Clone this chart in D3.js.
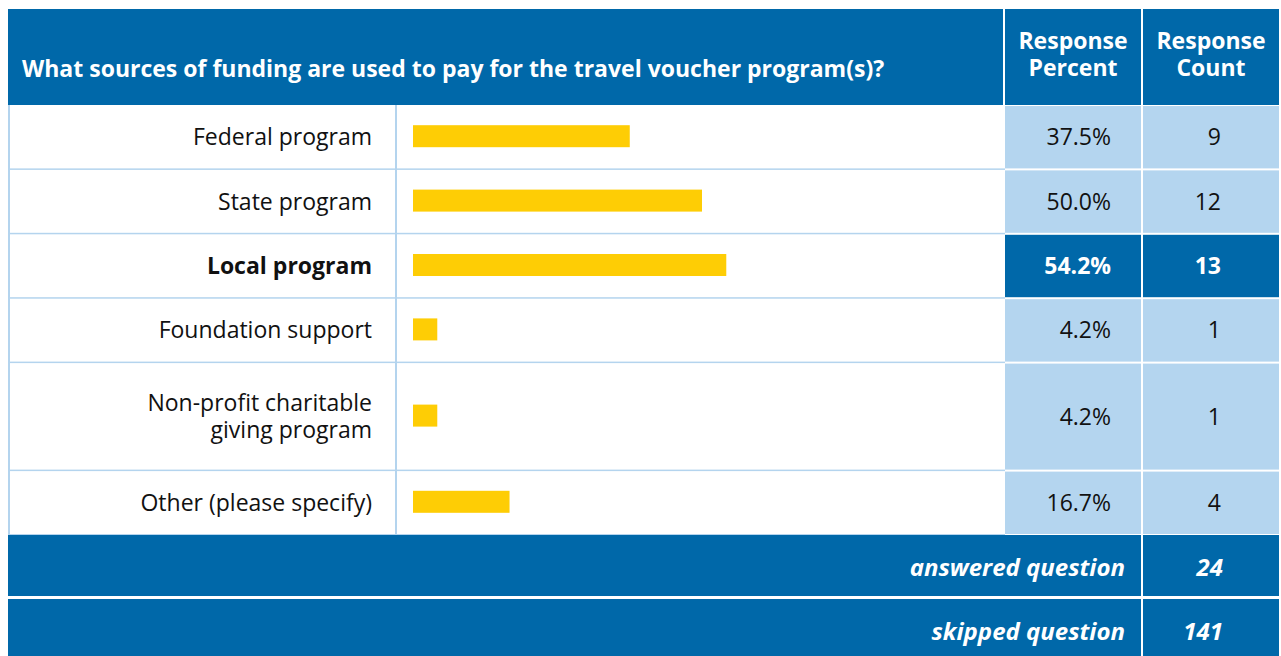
<!DOCTYPE html>
<html>
<head>
<meta charset="utf-8">
<script src="https://cdn.jsdelivr.net/npm/d3@7"></script>
<style>
  html, body { margin: 0; padding: 0; background: #fff; }
  svg text { font-family: "Open Sans", "Noto Sans", sans-serif; }
</style>
</head>
<body>
<div id="chart"></div>
<script>
// Survey data
const question = "What sources of funding are used to pay for the travel voucher program(s)?";
const categories = ["Federal program", "State program", "Local program", "Foundation support",
    "Non-profit charitable\ngiving program", "Other (please specify)"];
const percents = [37.5, 50.0, 54.2, 4.2, 4.2, 16.7];
const counts = [9, 12, 13, 1, 1, 4];
const footerLabels = ["answered question", "skipped question"];
const footerValues = [24, 141];
const highlight = "Local program";

const width = 1281, height = 656;
const blue = "#0068a9", lightBlue = "#b4d5ef", lineBlue = "#b4d4ee", yellow = "#fecd05";

// Column edges
const left = 8, splitX = 396, pctX0 = 1005, pctX1 = 1141, cntX0 = 1143, cntX1 = 1279;
const headTop = 9, headBottom = 105;

// Row heights: taller for two-line labels
const rowH = categories.map(c => c.includes("\n") ? 108 : 64.4);
const rowY = [];
rowH.reduce((acc, h, i) => { rowY[i] = acc; return acc + h; }, headBottom);
const bodyBottom = rowY[rowY.length - 1] + rowH[rowH.length - 1];

const svg = d3.select("#chart").append("svg")
    .attr("width", width)
    .attr("height", height);

// Bar scale
const x = d3.scaleLinear().domain([0, 100]).range([413, 991]);

// Header
svg.append("rect").attr("x", left).attr("y", headTop)
    .attr("width", pctX0 - 2 - left).attr("height", headBottom - headTop).attr("fill", blue);
svg.append("rect").attr("x", pctX0).attr("y", headTop)
    .attr("width", pctX1 - pctX0).attr("height", headBottom - headTop).attr("fill", blue);
svg.append("rect").attr("x", cntX0).attr("y", headTop)
    .attr("width", cntX1 - cntX0).attr("height", headBottom - headTop).attr("fill", blue);

svg.append("text").attr("x", 22).attr("y", 77)
    .attr("fill", "#fff").attr("font-size", 23).attr("font-weight", "bold")
    .text(question);

[["Response", "Percent", 1073], ["Response", "Count", 1211]]
    .forEach(([a, b, cx]) => {
        const t = svg.append("text").attr("x", cx).attr("text-anchor", "middle")
            .attr("fill", "#fff").attr("font-size", 23).attr("font-weight", "bold");
        t.append("tspan").attr("x", cx).attr("y", 49).text(a);
        t.append("tspan").attr("x", cx).attr("y", 76).text(b);
    });

// Body rows
const rows = svg.selectAll("g.row")
    .data(categories)
    .enter().append("g")
    .attr("class", "row")
    .attr("transform", (d, i) => `translate(0,${rowY[i]})`);

rows.each(function(d, i) {
    const g = d3.select(this);
    const h = rowH[i];
    const cy = h / 2;
    const hi = d === highlight;

    // row separator line in white area
    g.append("rect").attr("x", left).attr("y", h - 1)
        .attr("width", pctX0 - left).attr("height", 1.5).attr("fill", lineBlue);

    // percent & count cells
    g.append("rect").attr("x", pctX0).attr("y", 1)
        .attr("width", pctX1 - pctX0).attr("height", h - 2)
        .attr("fill", hi ? blue : lightBlue);
    g.append("rect").attr("x", cntX0).attr("y", 1)
        .attr("width", cntX1 - cntX0).attr("height", h - 2)
        .attr("fill", hi ? blue : lightBlue);

    // label, one text per line
    const lines = d.split("\n");
    lines.forEach((ln, k) => {
        g.append("text").attr("text-anchor", "end")
            .attr("font-size", 23).attr("fill", "#111")
            .attr("font-weight", hi ? "bold" : "normal")
            .attr("x", 372)
            .attr("y", cy + 8 + (k - (lines.length - 1) / 2) * 27)
            .text(ln);
    });

    // bar
    g.append("rect").attr("x", x(0)).attr("y", cy - 12)
        .attr("width", x(percents[i]) - x(0)).attr("height", 22)
        .attr("fill", yellow);

    // values
    g.append("text").attr("x", 1111).attr("y", cy + 8).attr("text-anchor", "end")
        .attr("font-size", 23).attr("fill", hi ? "#fff" : "#111")
        .attr("font-weight", hi ? "bold" : "normal")
        .text(d3.format(".1f")(percents[i]) + "%");
    g.append("text").attr("x", 1221).attr("y", cy + 8).attr("text-anchor", "end")
        .attr("font-size", 23).attr("fill", hi ? "#fff" : "#111")
        .attr("font-weight", hi ? "bold" : "normal")
        .text(counts[i]);
});

// vertical lines in white area
svg.append("rect").attr("x", left).attr("y", headBottom)
    .attr("width", 2).attr("height", bodyBottom - headBottom).attr("fill", lineBlue);
svg.append("rect").attr("x", splitX - 1).attr("y", headBottom)
    .attr("width", 2).attr("height", bodyBottom - headBottom).attr("fill", lineBlue);

// Footer rows
const footH = [63, 60];
let fy = bodyBottom;
footerLabels.forEach((lab, i) => {
    svg.append("rect").attr("x", left).attr("y", fy)
        .attr("width", pctX1 - left).attr("height", footH[i] - 2).attr("fill", blue);
    svg.append("rect").attr("x", cntX0).attr("y", fy)
        .attr("width", cntX1 - cntX0).attr("height", footH[i] - 2).attr("fill", blue);
    svg.append("text").attr("x", 1125).attr("y", fy + 41).attr("text-anchor", "end")
        .attr("fill", "#fff").attr("font-size", 24).attr("font-weight", "bold")
        .attr("font-style", "italic").text(lab);
    svg.append("text").attr("x", 1223).attr("y", fy + 41).attr("text-anchor", "end")
        .attr("fill", "#fff").attr("font-size", 24).attr("font-weight", "bold")
        .attr("font-style", "italic").text(footerValues[i]);
    fy += footH[i] + 1;
});
</script>
</body>
</html>
